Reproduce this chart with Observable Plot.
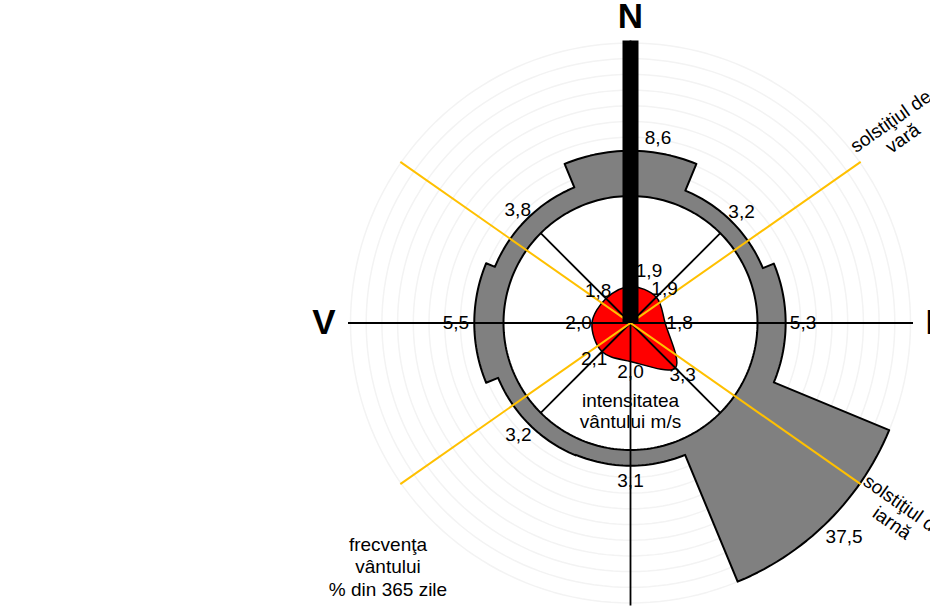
<!DOCTYPE html>
<html>
<head>
<meta charset="utf-8">
<script src="https://cdn.jsdelivr.net/npm/d3@7"></script>
<script src="https://cdn.jsdelivr.net/npm/@observablehq/plot@0.6"></script>
<style>
  html, body { margin: 0; padding: 0; background: #fff; overflow: hidden; }
  #chart svg { display: block; }
</style>
</head>
<body>
<div id="chart"></div>
<script>
// ---------------- DATA ----------------
const directions   = ["N", "NE", "E", "SE", "S", "SV", "V", "NV"];
const azimuths     = [0, 45, 90, 135, 180, 225, 270, 315];
const frequency    = [8.6, 3.2, 5.3, 37.5, 3.1, 3.2, 5.5, 3.8];   // % of 365 days
const speed        = [1.9, 1.9, 1.8, 3.3, 2.0, 2.1, 2.0, 1.8];    // m/s
const freqLabels   = ["8,6", "3,2", "5,3", "37,5", "3,1", "3,2", "5,5", "3,8"];
const speedLabels  = ["1,9", "1,9", "1,8", "3,3", "2,0", "2,1", "2,0", "1,8"];
const cardinalNames    = ["N", "E", "V"];
const cardinalAzimuths = [0, 90, 270];
const solsticeAzimuths = [55, 125];
const solsticeLabels   = ["solstiţiul de\nvară", "solstiţiul de\niarnă"];
const speedTitle = "intensitatea\nvântului m/s";
const freqTitle  = "frecvenţa\nvântului\n% din 365 zile";

// ---------------- LAYOUT ----------------
const W = 930, H = 606, CX = 630, CY = 322.5;
const R_BASE = 123, R_MAX = 280, R_WHITE = 127, R_AXIS = 282.5, R_CARD = 295, R_SOL = 281;
const FONT = "'Liberation Sans', Arial, Helvetica, sans-serif";
const FS = 19;
const FREQ_GAP  = {N: 12.8, NE: 13.8, E: 17.4, SE: 22, S: 15.3, SV: 15.2, V: 18.3, NV: 12.7};
const SPEED_GAP = {N: 16, NE: 11.6, E: 14.4, SE: 10.2, S: 10, SV: 10.9, V: 13.5, NV: 11};
const N_FREQ_SHIFT = 27.5, N_SPEED_SHIFT = 18.5;

const freqMax = d3.max(frequency);
// area-proportional radial scale for frequency sectors
const rFreq = f => Math.sqrt(R_BASE * R_BASE + (R_MAX * R_MAX - R_BASE * R_BASE) * f / freqMax);
const rSpeed = d3.scaleLinear().domain([0, 6.6]).range([0, R_WHITE]);

const rad = a => a * Math.PI / 180;
const polar = (az, r) => ({x: r * Math.sin(rad(az)), y: r * Math.cos(rad(az))});

const rows = directions.map((dir, i) => ({
  dir, az: azimuths[i], freq: frequency[i], speed: speed[i],
  freqLabel: freqLabels[i], speedLabel: speedLabels[i]
}));

// background rings
const ringRadii = d3.range(1, 11).map(i => R_BASE + i * (R_MAX - R_BASE) / 10);
const ringPts = ringRadii.flatMap((r, k) => d3.range(0, 360, 2).map(a => ({...polar(a, r), k})));

// gray frequency sectors (one outline)
const sectorPts = rows.flatMap(d =>
  d3.range(-22.5, 22.5 + 1e-9, 1.5).map(o => polar(d.az + o, rFreq(d.freq))));

const whitePts = d3.range(0, 360, 1.5).map(a => polar(a, R_WHITE));

// wind speed shape
const speedPts = rows.map(d => ({...polar(d.az, rSpeed(d.speed)), ...d}));

// axes lines
const mainAxes = [0, 90].map(a => {
  const p = polar(a, R_AXIS), q = polar(a + 180, R_AXIS);
  return {x1: p.x, y1: p.y, x2: q.x, y2: q.y};
});
const diagonals = [45, 135, 225, 315].map(a => {
  const p = polar(a, R_WHITE);
  return {x1: 0, y1: 0, x2: p.x, y2: p.y};
});
const solsticeLines = solsticeAzimuths.map(a => {
  const p = polar(a, R_SOL), q = polar(a + 180, R_SOL);
  return {x1: p.x, y1: p.y, x2: q.x, y2: q.y};
});
const nTop = polar(0, R_AXIS);
const northBar = [{x1: 0, y1: 0, x2: nTop.x, y2: nTop.y}];

// labels
const freqLabelPts = rows.map(d => {
  const p = polar(d.az, rFreq(d.freq) + FREQ_GAP[d.dir]);
  return {x: p.x + (d.dir === "N" ? N_FREQ_SHIFT : 0), y: p.y, text: d.freqLabel};
});
const speedLabelPts = rows.map(d => {
  const p = polar(d.az, rSpeed(d.speed) + SPEED_GAP[d.dir]);
  return {x: p.x + (d.dir === "N" ? N_SPEED_SHIFT : 0), y: p.y, text: d.speedLabel};
});
const cardPts = cardinalNames.map((name, i) => ({...polar(cardinalAzimuths[i], R_CARD), name, az: cardinalAzimuths[i]}));

const SOL_ALONG = 329;
const SOL_UP = [6, -3];
const solLabelPts = solsticeAzimuths.map((a, i) => {
  const p = polar(a, SOL_ALONG);
  const ux = -Math.cos(rad(a)), uy = Math.sin(rad(a));
  return {x: p.x + ux * SOL_UP[i], y: p.y + uy * SOL_UP[i], text: solsticeLabels[i], rot: a - 90};
});

const textBase = {fontFamily: FONT, fontSize: FS, fill: "black"};
const cardBase = {x: "x", y: "y", text: "name", fontFamily: FONT, fontSize: 35, fontWeight: "bold"};

const chart = Plot.plot({
  width: W, height: H,
  marginTop: 0, marginRight: 0, marginBottom: 0, marginLeft: 0,
  x: {domain: [-CX, W - CX], axis: null},
  y: {domain: [CY - H, CY], axis: null},
  style: {fontFamily: FONT, background: "white"},
  marks: [
    Plot.line(ringPts, {x: "x", y: "y", z: "k", curve: "linear-closed", stroke: "#f3f3f3", strokeWidth: 1.5}),
    Plot.line(sectorPts, {x: "x", y: "y", curve: "linear-closed", fill: "#808080", stroke: "black", strokeWidth: 2}),
    Plot.line(whitePts, {x: "x", y: "y", curve: "linear-closed", fill: "white", stroke: "black", strokeWidth: 2}),
    Plot.line(speedPts, {x: "x", y: "y", curve: "catmull-rom-closed", fill: "#ff0000", stroke: "black", strokeWidth: 1.5}),
    Plot.link(mainAxes, {x1: "x1", y1: "y1", x2: "x2", y2: "y2", stroke: "black", strokeWidth: 1.8}),
    Plot.link(diagonals, {x1: "x1", y1: "y1", x2: "x2", y2: "y2", stroke: "black", strokeWidth: 1.8}),
    Plot.link(solsticeLines, {x1: "x1", y1: "y1", x2: "x2", y2: "y2", stroke: "#ffc000", strokeWidth: 2}),
    Plot.link(northBar, {x1: "x1", y1: "y1", x2: "x2", y2: "y2", stroke: "black", strokeWidth: 16, strokeLinecap: "butt"}),
    Plot.text(freqLabelPts, {x: "x", y: "y", text: "text", ...textBase, textAnchor: "middle", lineAnchor: "middle"}),
    Plot.text(speedLabelPts, {x: "x", y: "y", text: "text", ...textBase, textAnchor: "middle", lineAnchor: "middle"}),
    Plot.text(cardPts.filter(d => d.az === 0), {...cardBase, textAnchor: "middle", lineAnchor: "bottom"}),
    Plot.text(cardPts.filter(d => d.az === 90), {...cardBase, textAnchor: "start", lineAnchor: "middle"}),
    Plot.text(cardPts.filter(d => d.az === 270), {...cardBase, textAnchor: "end", lineAnchor: "middle"}),
    ...solLabelPts.map(d => Plot.text([d], {x: "x", y: "y", text: "text", ...textBase, rotate: d.rot, textAnchor: "middle", lineAnchor: "middle", lineHeight: 1.1})),
    Plot.text([speedTitle], {x: 0, y: -88, text: d => d, ...textBase, textAnchor: "middle", lineAnchor: "middle", lineHeight: 1.105}),
    Plot.text([freqTitle], {x: -242.5, y: CY - 595, text: d => d, ...textBase, textAnchor: "middle", lineAnchor: "bottom", lineHeight: 1.18})
  ]
});

document.getElementById("chart").appendChild(chart);
</script>
</body>
</html>
